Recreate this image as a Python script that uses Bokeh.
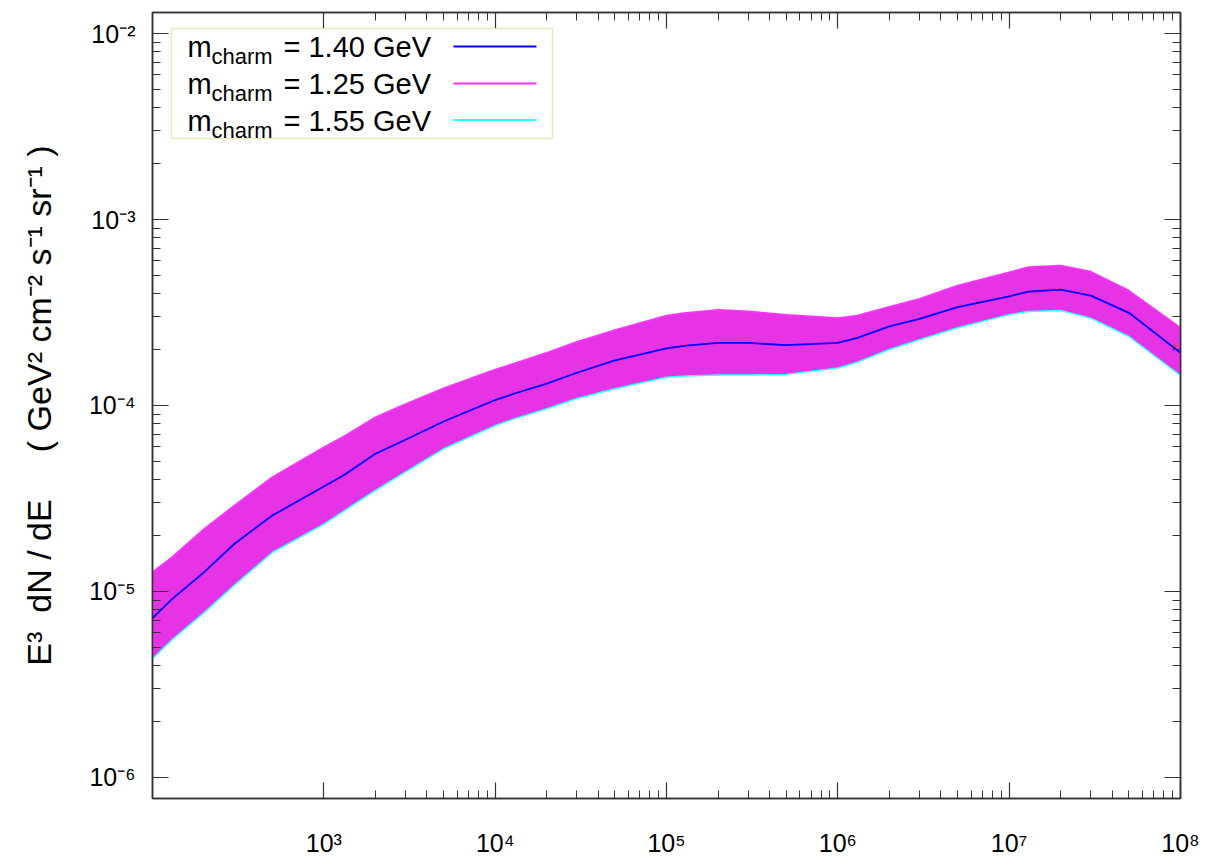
from bokeh.plotting import figure
from bokeh.models import (LogAxis, FixedTicker, Label, BoxAnnotation)
from bokeh.embed import file_html
from bokeh.resources import INLINE

# ---- data ----
energy = [1e2, 1.3e2, 2e2, 3e2, 5e2, 1e3, 1.3e3, 2e3, 3e3, 5e3,
          1e4, 1.3e4, 2e4, 3e4, 5e4, 1e5, 1.3e5, 2e5, 3e5, 5e5,
          1e6, 1.3e6, 2e6, 3e6, 5e6, 1e7, 1.3e7, 2e7, 3e7, 5e7, 1e8]
flux_140 = [7.2e-6, 9.1e-6, 1.27e-5, 1.80e-5, 2.56e-5, 3.67e-5, 4.2e-5, 5.5e-5, 6.54e-5, 8.2e-5,
            1.07e-4, 1.16e-4, 1.31e-4, 1.50e-4, 1.75e-4, 2.03e-4, 2.10e-4, 2.17e-4, 2.17e-4, 2.11e-4,
            2.17e-4, 2.31e-4, 2.66e-4, 2.92e-4, 3.38e-4, 3.86e-4, 4.10e-4, 4.20e-4, 3.90e-4, 3.15e-4, 1.92e-4]
flux_125 = [1.27e-5, 1.53e-5, 2.17e-5, 2.90e-5, 4.12e-5, 5.97e-5, 6.8e-5, 8.65e-5, 1.02e-4, 1.24e-4,
            1.56e-4, 1.69e-4, 1.92e-4, 2.20e-4, 2.55e-4, 3.05e-4, 3.15e-4, 3.27e-4, 3.21e-4, 3.08e-4,
            2.95e-4, 3.05e-4, 3.40e-4, 3.75e-4, 4.42e-4, 5.21e-4, 5.55e-4, 5.66e-4, 5.25e-4, 4.15e-4, 2.62e-4]
flux_155 = [4.35e-6, 5.5e-6, 7.7e-6, 1.08e-5, 1.62e-5, 2.3e-5, 2.7e-5, 3.5e-5, 4.4e-5, 5.85e-5,
            7.8e-5, 8.5e-5, 9.6e-5, 1.09e-4, 1.23e-4, 1.42e-4, 1.44e-4, 1.46e-4, 1.46e-4, 1.47e-4,
            1.59e-4, 1.71e-4, 2.0e-4, 2.26e-4, 2.62e-4, 3.08e-4, 3.20e-4, 3.24e-4, 2.95e-4, 2.35e-4, 1.45e-4]

legend_labels = ["1.40 GeV", "1.25 GeV", "1.55 GeV"]
legend_colors = ["#0000ff", "#ff33ff", "#33ffff"]

x_major = [1e3, 1e4, 1e5, 1e6, 1e7, 1e8]
x_major_labels = ["10\u00b3", "10\u2074", "10\u2075", "10\u2076", "10\u2077", "10\u2078"]
x_minor = [m * 10 ** k for k in range(3, 8) for m in range(2, 10)]
y_major = [1e-6, 1e-5, 1e-4, 1e-3, 1e-2]
y_major_labels = ["10\u207b\u2076", "10\u207b\u2075", "10\u207b\u2074", "10\u207b\u00b3", "10\u207b\u00b2"]
y_minor = [m * 10 ** k for k in range(-6, -2) for m in range(2, 10)]

FONT = "Liberation Sans"
FUDGE = 0.357       # alphabetic-baseline correction for Label (em)

p = figure(width=1208, height=865, x_axis_type="log", y_axis_type="log",
           x_range=(1e2, 1e8), y_range=(7.71e-7, 1.297e-2),
           output_backend="svg", toolbar_location=None,
           min_border_left=152, min_border_right=28,
           min_border_top=12, min_border_bottom=67)
p.grid.visible = False
p.outline_line_color = "#333333"
p.outline_line_width = 1.5
p.background_fill_color = "white"
p.border_fill_color = "white"


def style_axis(ax, labels, standoff):
    ax.axis_line_color = "#333333"
    ax.axis_line_width = 1.5
    ax.major_tick_in = 16
    ax.major_tick_out = 0
    ax.minor_tick_in = 8
    ax.minor_tick_out = 0
    ax.major_tick_line_color = "#333333"
    ax.minor_tick_line_color = "#333333"
    ax.major_tick_line_width = 1.2
    ax.minor_tick_line_width = 1.0
    if labels is not None:
        ax.major_label_overrides = labels
        ax.major_label_text_font = FONT
        ax.major_label_text_font_size = "25px"
        ax.major_label_text_color = "black"
        ax.major_label_standoff = standoff
    else:
        ax.major_label_text_alpha = 0.0
        ax.major_label_text_font_size = "1px"
        ax.major_label_standoff = 0


xt = FixedTicker(ticks=x_major, minor_ticks=x_minor)
yt = FixedTicker(ticks=y_major, minor_ticks=y_minor)
p.xaxis.ticker = xt
p.yaxis.ticker = yt
style_axis(p.xaxis[0], dict(zip(x_major, x_major_labels)), 30)
style_axis(p.yaxis[0], dict(zip(y_major, y_major_labels)), 17)
top_ax = LogAxis(ticker=xt)
right_ax = LogAxis(ticker=yt)
style_axis(top_ax, None, 0)
style_axis(right_ax, None, 0)
p.add_layout(top_ax, "above")
p.add_layout(right_ax, "right")

NB = "\u00a0"
p.yaxis[0].axis_label = ("E\u00b3" + NB * 2 + "dN / dE" + NB * 5 +
                         "(" + NB + "GeV\u00b2 cm\u207b\u00b2 s\u207b\u00b9 sr\u207b\u00b9" + NB + ")")
p.yaxis[0].axis_label_text_font = FONT
p.yaxis[0].axis_label_text_font_size = "34px"
p.yaxis[0].axis_label_text_font_style = "normal"
p.yaxis[0].axis_label_text_color = "black"
p.yaxis[0].axis_label_standoff = 28

# ---- band and lines ----
p.varea(x=energy, y1=flux_155, y2=flux_125, fill_color="#e533e5", fill_alpha=1.0)
p.line(energy, flux_125, line_color=legend_colors[1], line_width=1.5)
p.line(energy, flux_155, line_color=legend_colors[2], line_width=1.5)
p.line(energy, flux_140, line_color=legend_colors[0], line_width=1.8)

# ---- legend (gnuplot style: text left, sample right) ----
p.add_layout(BoxAnnotation(left=19, right=400, top=770, bottom=660,
                           left_units="screen", right_units="screen",
                           top_units="screen", bottom_units="screen",
                           fill_color="white", fill_alpha=1.0,
                           line_color="#bdb22e", line_width=1.5))
row_base = [741, 704, 667.5]
row_line = [752, 715, 678.5]
for lab, col, yb, yl in zip(legend_labels, legend_colors, row_base, row_line):
    p.add_layout(Label(x=35, y=yb + FUDGE * 29, x_units="screen", y_units="screen", text="m",
                       text_font=FONT, text_font_size="29px", text_color="black",
                       text_baseline="alphabetic"))
    p.add_layout(Label(x=59, y=yb - 7 + FUDGE * 22, x_units="screen", y_units="screen", text="charm",
                       text_font=FONT, text_font_size="22px", text_color="black",
                       text_baseline="alphabetic"))
    p.add_layout(Label(x=131, y=yb + FUDGE * 29, x_units="screen", y_units="screen", text="= " + lab,
                       text_font=FONT, text_font_size="29px", text_color="black",
                       text_baseline="alphabetic"))
    p.add_layout(BoxAnnotation(left=301, right=384, top=yl + 1, bottom=yl - 1,
                               left_units="screen", right_units="screen",
                               top_units="screen", bottom_units="screen",
                               fill_color=col, fill_alpha=1.0, line_color=None))

open("out.html", "w").write(file_html(p, INLINE))
